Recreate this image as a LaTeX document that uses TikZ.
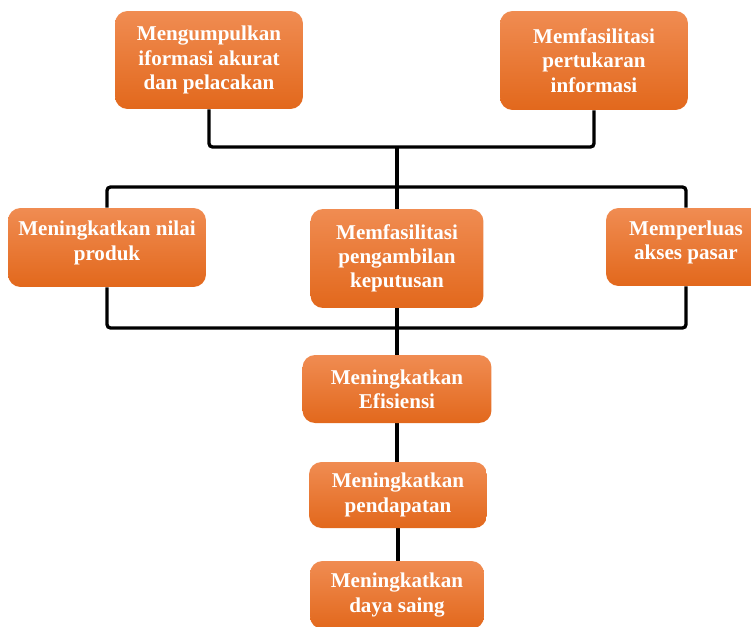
\documentclass[tikz,border=0pt]{standalone}
\usepackage{fontspec}
\setmainfont{Liberation Serif}
\usepackage{xcolor}
\usetikzlibrary{positioning, backgrounds}

\definecolor{boxtop}{RGB}{240,140,82}
\definecolor{boxbot}{RGB}{226,104,28}

\begin{document}
\begin{tikzpicture} [x = 0.02cm, y = -0.02cm,
					box/.style = {rounded corners = 0.25cm,
					    top color = boxtop,
					    bottom color = boxbot,
					    text = white,
					    align = center,
					    inner sep = 0pt,
					    font = \bfseries\fontsize{12}{13.8}\selectfont},
					link/.style = {draw = black,
					    line width = 1.9pt,
					    rounded corners = 2pt}]

					\clip (0,0) rectangle (751,626);

					% top row
					\node (info) at (209,60) [box, minimum width = 3.76cm, minimum height = 1.96cm] {Mengumpulkan\\iformasi akurat\\dan pelacakan};
					\node (tukar) at (594,60.5) [box, minimum width = 3.76cm, minimum height = 1.98cm] {Memfasilitasi\\pertukaran\\informasi};

					% middle row
					\node (nilai) at (107,247.5) [box, minimum width = 3.96cm, minimum height = 1.58cm] {Meningkatkan nilai\\produk\\[-6pt]};
					\node (putusan) at (397,258.5) [box, minimum width = 3.46cm, minimum height = 1.98cm] {Memfasilitasi\\pengambilan\\keputusan};
					\node (pasar) at (686,247) [box, minimum width = 3.2cm, minimum height = 1.56cm] {Memperluas\\akses pasar\\[-6pt]};

					% bottom chain
					\node (efisien) at (397,389) [box, minimum width = 3.78cm, minimum height = 1.36cm] {Meningkatkan\\Efisiensi};
					\node (dapat) at (398,495) [box, minimum width = 3.56cm, minimum height = 1.32cm] {Meningkatkan\\pendapatan};
					\node (saing) at (397,595) [box, minimum width = 3.48cm, minimum height = 1.36cm] {Meningkatkan\\daya saing};

					\coordinate (join) at (397,147);
					\coordinate (upper) at (397,187);
					\coordinate (lower) at (397,328);

					\begin{scope}[on background layer]
					\draw [link] (info.south) |- (join) -| (tukar.south);
					\draw [link] (join) -- (upper);
					\draw [link] (nilai.north) |- (upper) -| (pasar.north);
					\draw [link] (nilai.south) |- (lower) -| (pasar.south);
					\draw [link] (upper) -- (putusan.north);
					\draw [link] (putusan.south) -- (efisien.north);
					\draw [link] (efisien.south) -- (efisien.south |- dapat.north);
					\draw [link] (dapat.south) -- (dapat.south |- saing.north);
					\end{scope}
				\end{tikzpicture}
\end{document}
